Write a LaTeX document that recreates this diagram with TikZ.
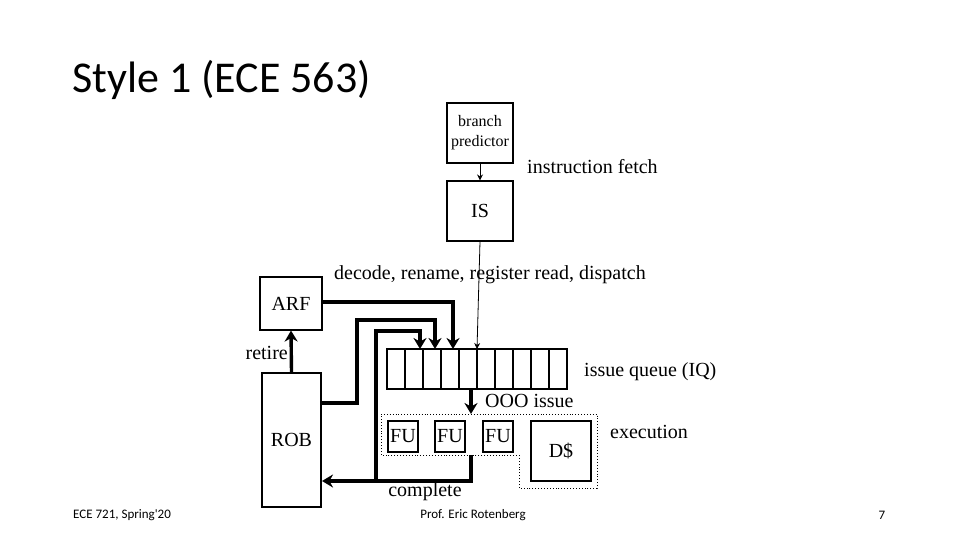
\documentclass[tikz,border=0pt]{standalone}
\usepackage{fontspec}
\setmainfont{Liberation Serif}
\newfontfamily\calfnt{Carlito}
\usetikzlibrary{arrows.meta}
\begin{document}
\begin{tikzpicture}[x=1pt,y=-1pt,
  box/.style={draw,line width=1.1pt,inner sep=0},
  lbl/.style={font=\fontsize{20}{22}\selectfont,inner sep=0},
  thick arr/.style={line width=3.4pt,-{Stealth[length=11pt,width=13pt]}},
  thin arr/.style={line width=0.8pt,-{Stealth[length=6pt,width=6pt]}}]
\useasboundingbox (0,0) rectangle (960,540);
\node[anchor=west,font=\calfnt\fontsize{44}{46}\selectfont,inner sep=0] (title) at (72,80) {Style 1 (ECE 563)};
\node[anchor=west,font=\calfnt\fontsize{13}{14}\selectfont,inner sep=0] (f1) at (73,515) {ECE 721, Spring'20};
\node[font=\calfnt\fontsize{13}{14}\selectfont,inner sep=0] (f2) at (473,515) {Prof. Eric Rotenberg};
\node[font=\calfnt\fontsize{13}{14}\selectfont,inner sep=0] (f3) at (882,515) {7};
% boxes
\node[box,minimum width=66,minimum height=60,align=center,font=\fontsize{16}{20}\selectfont] (bp) at (480,133) {branch\\predictor};
\node[box,minimum width=66,minimum height=60,lbl] (IS) at (480,211) {IS};
\node[box,minimum width=62,minimum height=53,lbl] (ARF) at (291,303.5) {ARF};
\node[box,minimum width=59,minimum height=134,lbl] (ROB) at (291.5,440) {ROB};
\node[box,minimum width=180,minimum height=40] (IQ) at (477,369) {};
\foreach \i in {1,...,9}{\draw[line width=1.1pt] (387+18*\i,349) -- (387+18*\i,389);}
\coordinate (iqtop) at (477,349);
% execution region
\draw[dotted,line width=0.9pt] (381,414) -- (597,414) -- (597,488) -- (519,488) -- (519,455) -- (381,455) -- cycle;
\node[box,minimum width=30,minimum height=31,lbl] (FU1) at (403,436.5) {FU};
\node[box,minimum width=30,minimum height=31,lbl] (FU2) at (450,436.5) {FU};
\node[box,minimum width=30,minimum height=31,lbl] (FU3) at (498,436.5) {FU};
\node[box,minimum width=60,minimum height=60,lbl] (D) at (561,451) {D\$};
% labels
\node[lbl,anchor=west] (t1) at (527,167) {instruction fetch};
\node[lbl,anchor=west] (t2) at (334,275) {decode, rename, register read, dispatch};
\node[lbl,anchor=west] (t3) at (584,372) {issue queue (IQ)};
\node[lbl,anchor=west] (t4) at (485,401) {OOO issue};
\node[lbl,anchor=west] (t5) at (610,432) {execution};
\node[lbl] (t6) at (425,492) {complete};
\node[lbl,anchor=east] (t7) at (288,353) {retire};
% connectors
\coordinate (s1) at (322,302);
\coordinate (s2) at (322,403);
\coordinate (e4) at (322,481);
\coordinate (a1) at (453,349);
\coordinate (a2) at (435,349);
\coordinate (a3) at (420,349);
\coordinate (fuo) at (471,455);
\coordinate (j) at (376,481);
\coordinate (iqb) at (471,389);
\coordinate (exe) at (471,414);
\draw[thin arr] (bp.south) -- (IS.north);
\draw[thin arr] (IS.south) -- (iqtop);
\draw[thick arr] (s1) -| (a1);
\draw[thick arr] (s2) -- (357,403) |- (435,320) -- (a2);
\draw[thick arr] (j) |- (420,331) -- (a3);
\draw[thick arr] (fuo) |- (e4);
\draw[thick arr] (ROB.north) -- (ARF.south);
\draw[thick arr] (iqb) -- (exe);
\end{tikzpicture}
\end{document}
